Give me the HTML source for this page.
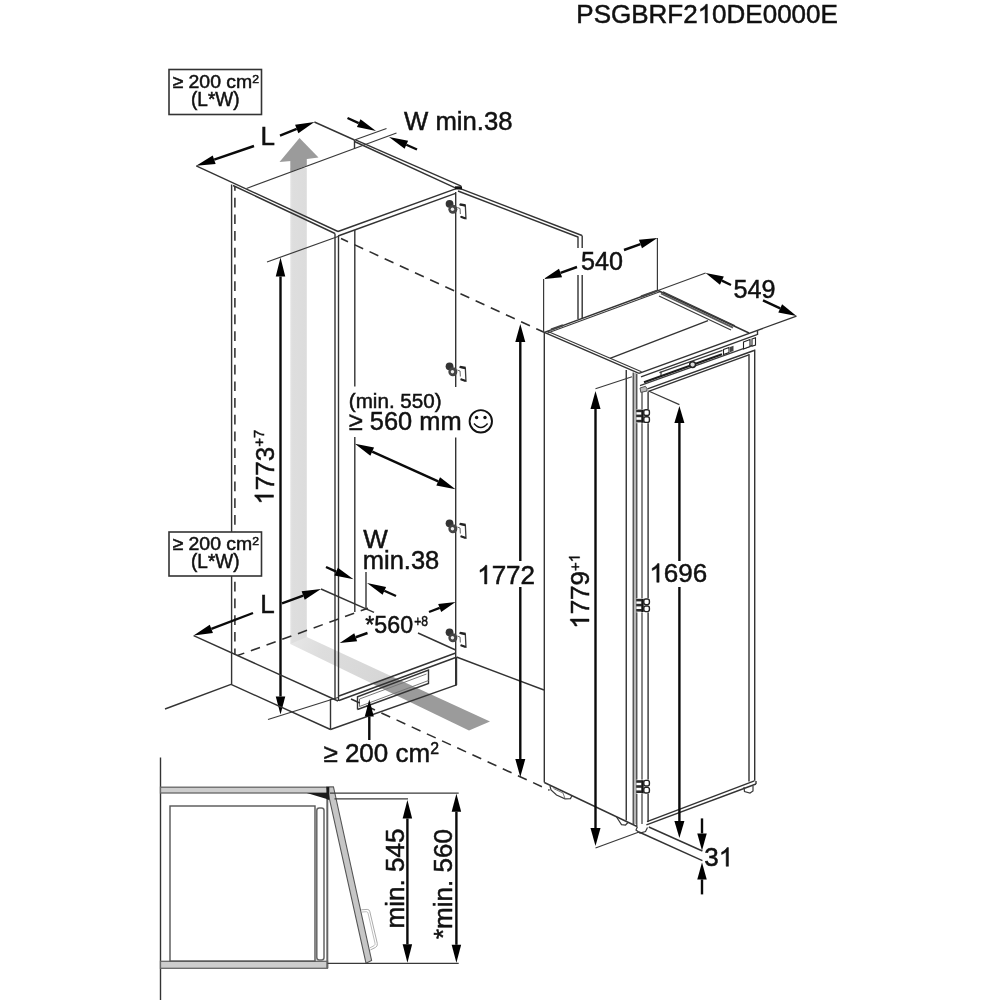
<!DOCTYPE html>
<html><head><meta charset="utf-8"><title>PSGBRF210DE0000E</title>
<style>
html,body{margin:0;padding:0;background:#fff;}
body{width:1000px;height:1000px;overflow:hidden;font-family:"Liberation Sans",sans-serif;}
svg{display:block;opacity:0.999;will-change:transform;filter:blur(0.45px);}
svg text{font-family:"Liberation Sans",sans-serif;fill:#111;stroke:#111;stroke-width:0.5;}
.g{stroke:#333;stroke-width:1.4;fill:none;stroke-linecap:butt;}
.t{stroke:#3a3a3a;stroke-width:1.2;fill:none;}
.d{stroke:#0a0a0a;stroke-width:2.4;fill:none;}
.k{stroke:#2e2e2e;stroke-width:1.55;fill:none;stroke-dasharray:9.7 7;}
.l{stroke:#777;stroke-width:1;fill:none;}
.h{stroke:#444;stroke-width:2.2;fill:none;}
</style></head><body>
<svg width="1000" height="1000" viewBox="0 0 1000 1000">
<defs>
<linearGradient id="sh" x1="0" y1="0" x2="1" y2="0"><stop offset="0" stop-color="#e4e4e4"/><stop offset="0.15" stop-color="#dedede"/><stop offset="1" stop-color="#dcdcdc"/></linearGradient>
<linearGradient id="fl" gradientUnits="userSpaceOnUse" x1="295" y1="640" x2="385" y2="680"><stop offset="0" stop-color="#e6e6e6"/><stop offset="0.3" stop-color="#dddddd"/><stop offset="1" stop-color="#d6d6d6"/></linearGradient>
</defs>
<rect width="1000" height="1000" fill="#fff"/>
<rect x="290.3" y="168" width="16.5" height="476" fill="url(#sh)"/>
<polygon points="306.80,637.00 393.00,677.00 373.00,684.00 290.30,644.00" fill="url(#fl)" />
<polygon points="392.00,676.50 490.00,721.50 469.00,730.50 372.20,683.70" fill="#9b9b9b" />
<polygon points="290.30,159.00 306.80,157.00 306.80,165.50 290.30,171.80" fill="#9b9b9b" />
<polygon points="299.50,138.00 318.50,157.50 307.00,159.00 291.00,161.00 279.50,162.00" fill="#9b9b9b" />
<g transform="translate(576.3 23)">
<path d="M763 0H583V1147Q518 1085 412.5 1023T223 930V1104Q374 1175 487 1276T647 1472H763Z" transform="translate(121.37 0) scale(0.01270 -0.01270)" fill="#111" stroke="#111" stroke-width="39.4"/>
<text x="0.00 17.34 34.68 54.91 72.25 91.03 106.91 135.82 150.28 169.05 186.39 200.85 215.31 229.76 244.22" y="0" font-size="26">PSGBRF20DE0000E</text>
</g>
<rect x="169" y="69.5" width="92.5" height="45" fill="#fff" stroke="#333" stroke-width="1.6"/>
<text x="172.5" y="88.2" font-size="18.4" textLength="86.5" lengthAdjust="spacingAndGlyphs" stroke-width="0.55">≥ 200 cm<tspan font-size="11.6" dy="-5.6">2</tspan></text>
<text x="191" y="106" font-size="19.5" textLength="48.5" lengthAdjust="spacingAndGlyphs" stroke-width="0.5">(L*W)</text>
<line class="g" x1="196.2" y1="165.8" x2="338" y2="231.5" />
<line class="g" x1="233" y1="185.5" x2="335" y2="233.5" />
<line class="g" x1="338" y1="231.5" x2="455.5" y2="188.8" />
<line class="g" x1="338" y1="236" x2="455.5" y2="193.3" />
<line class="g" x1="314.4" y1="122" x2="354.5" y2="140" />
<line class="g" x1="355.5" y1="139.8" x2="461.2" y2="186.2" />
<line class="g" x1="354.5" y1="141.5" x2="456.4" y2="188.3" />
<line class="g" x1="354.5" y1="140" x2="354.5" y2="149" />
<line class="t" x1="354.5" y1="140" x2="386.5" y2="128.5" />
<line class="t" x1="246.5" y1="188.5" x2="396.5" y2="133" />
<line class="g" x1="459" y1="188.2" x2="582" y2="235.5" />
<line class="g" x1="458" y1="191" x2="578" y2="237" />
<line class="g" x1="578" y1="236.5" x2="578" y2="248" />
<line class="g" x1="582.2" y1="235.5" x2="582.2" y2="248" />
<line class="g" x1="578" y1="275" x2="578" y2="319" />
<line class="g" x1="582.2" y1="275" x2="582.2" y2="318" />
<path d="M455 186.3 L462 186.3 L462 189.5 L455 189.5Z" fill="#111"/>
<polygon points="196.20,165.80 212.72,155.39 215.63,163.90" fill="#000" />
<line class="d" x1="254" y1="146" x2="214.17" y2="159.64" />
<polygon points="314.40,122.00 298.39,133.17 295.08,124.80" fill="#000" />
<line class="d" x1="280" y1="135.6" x2="296.73" y2="128.99" />
<text x="260.5" y="145" font-size="26" >L</text>
<polygon points="376.00,131.00 356.95,126.98 360.48,119.25" fill="#000" />
<line class="d" x1="347.5" y1="118" x2="358.71" y2="123.11" />
<polygon points="389.00,137.00 408.08,140.86 404.62,148.63" fill="#000" />
<line class="d" x1="417" y1="149.5" x2="406.35" y2="144.75" />
<text x="404" y="130" font-size="26" textLength="108.5" lengthAdjust="spacingAndGlyphs" >W min.38</text>
<line class="g" x1="231.6" y1="184.5" x2="231.6" y2="684.4" />
<line class="k" x1="234.9" y1="187" x2="234.9" y2="655" stroke-dasharray="11.5 4.5" stroke-dashoffset="6"/>
<line class="g" x1="335" y1="233.5" x2="335" y2="699" />
<line class="g" x1="338.5" y1="236" x2="338.5" y2="701" />
<line class="g" x1="354.8" y1="230" x2="354.8" y2="386.5" />
<line class="g" x1="354.8" y1="437" x2="354.8" y2="612" />
<line class="g" x1="366" y1="572" x2="366" y2="608.5" />
<line class="g" x1="455.7" y1="192" x2="455.7" y2="387" />
<line class="g" x1="455.7" y1="437.6" x2="455.7" y2="686" />
<line class="k" x1="341" y1="238.5" x2="544" y2="332.3" stroke-dashoffset="2"/>
<line class="t" x1="267" y1="262" x2="338" y2="236.5" />
<line class="t" x1="268" y1="719.5" x2="338" y2="697.5" />
<polygon points="280.50,257.50 285.25,276.50 275.75,276.50" fill="#000" />
<line class="d" x1="280.5" y1="500" x2="280.5" y2="276.5" />
<polygon points="280.50,714.50 275.75,696.50 285.25,696.50" fill="#000" />
<line class="d" x1="280.5" y1="500" x2="280.5" y2="696.5" />
<g transform="translate(273.5 504.6) rotate(-90)">
<path d="M763 0H583V1147Q518 1085 412.5 1023T223 930V1104Q374 1175 487 1276T647 1472H763Z" transform="translate(0.00 0) scale(0.01270 -0.01270)" fill="#111" stroke="#111" stroke-width="39.4"/>
<text x="14.46 28.91 43.37" y="0" font-size="26">773</text>
<text x="57.82 66.58" y="-9.3" font-size="15">+7</text>
</g>
<text x="348.8" y="408" font-size="20.5" textLength="92.8" lengthAdjust="spacingAndGlyphs" >(min. 550)</text>
<text x="348.8" y="430.4" font-size="26" textLength="112.8" lengthAdjust="spacingAndGlyphs" >≥ 560 mm</text>
<circle cx="480.8" cy="421.3" r="11.2" fill="#fff" stroke="#111" stroke-width="1.9"/>
<circle cx="476.6" cy="417.5" r="1.7" fill="#111"/><circle cx="485" cy="417.5" r="1.7" fill="#111"/>
<path d="M474 423.5 Q480.8 431.5 487.6 423.5" stroke="#111" stroke-width="1.5" fill="none"/>
<polygon points="354.90,443.70 374.06,447.45 370.35,455.64" fill="#000" />
<polygon points="455.50,489.30 436.34,485.55 440.05,477.36" fill="#000" />
<line class="d" x1="438.19" y1="481.46" x2="372.21" y2="451.54" />
<rect x="169" y="532" width="92.5" height="44" fill="#fff" stroke="#333" stroke-width="1.6"/>
<text x="172.5" y="550.2" font-size="18.4" textLength="86.5" lengthAdjust="spacingAndGlyphs" stroke-width="0.55">≥ 200 cm<tspan font-size="11.6" dy="-5.6">2</tspan></text>
<text x="191" y="568" font-size="19.5" textLength="48.5" lengthAdjust="spacingAndGlyphs" stroke-width="0.5">(L*W)</text>
<polygon points="193.60,635.60 209.76,624.64 212.96,633.05" fill="#000" />
<line class="d" x1="253" y1="613" x2="211.36" y2="628.84" />
<polygon points="321.00,589.00 304.73,599.80 301.62,591.36" fill="#000" />
<line class="d" x1="282" y1="603.4" x2="303.18" y2="595.58" />
<text x="260.3" y="613" font-size="26" >L</text>
<line class="g" x1="193.6" y1="635.6" x2="338" y2="701" />
<line class="k" x1="237.5" y1="655.6" x2="368" y2="608.2" stroke-dasharray="14 5" stroke-dashoffset="2.5"/>
<line class="g" x1="321" y1="589" x2="374" y2="612.3" />
<text x="363.2" y="548" font-size="26" >W</text>
<text x="362.8" y="569.3" font-size="26" textLength="76.5" lengthAdjust="spacingAndGlyphs" >min.38</text>
<polygon points="353.50,579.30 334.42,575.42 337.89,567.66" fill="#000" />
<line class="d" x1="326" y1="567" x2="336.16" y2="571.54" />
<polygon points="367.00,583.00 386.08,586.89 382.60,594.65" fill="#000" />
<line class="d" x1="396" y1="596" x2="384.34" y2="590.77" />
<text x="365.3" y="633.2" font-size="23.5" textLength="47.8" lengthAdjust="spacingAndGlyphs" >*560</text>
<text x="414.3" y="626.4" font-size="14.5" textLength="13.8" lengthAdjust="spacingAndGlyphs" stroke-width="0.6">+8</text>
<polygon points="339.70,643.00 354.26,633.25 357.14,641.24" fill="#000" />
<line class="d" x1="367.5" y1="633" x2="355.7" y2="637.25" />
<polygon points="455.60,602.00 441.18,611.96 438.19,604.00" fill="#000" />
<line class="d" x1="429" y1="612" x2="439.69" y2="607.98" />
<line class="g" x1="418" y1="633" x2="455.6" y2="650" />
<line class="g" x1="339" y1="696" x2="455.7" y2="653" />
<line class="g" x1="339" y1="700.5" x2="455.7" y2="657.5" />
<line class="g" x1="231" y1="684.4" x2="330.5" y2="729.5" />
<line class="g" x1="330.5" y1="699" x2="330.5" y2="729.5" />
<line class="g" x1="330.5" y1="729.5" x2="456.5" y2="684.8" />
<line class="g" x1="456.5" y1="657" x2="456.5" y2="685" />
<line class="g" x1="165" y1="709" x2="231" y2="684.4" />
<line class="g" x1="456.5" y1="657" x2="544" y2="690" />
<polyline class="g" points="357.5,709.5 357.5,696.8 428.5,670 428.5,683.5 357.5,709.5" />
<polyline class="l" points="359.5,706.5 359.5,699 426.5,674" />
<line class="l" x1="359.5" y1="706.5" x2="428.5" y2="680.5" />
<line class="k" x1="351" y1="699" x2="549.5" y2="790.2" />
<polygon points="369.30,699.50 373.80,716.50 364.80,716.50" fill="#000" />
<line class="d" x1="369.3" y1="740" x2="369.3" y2="716.5" />
<text x="323.4" y="762" font-size="26" >≥ 200 cm<tspan font-size="15.8" dy="-8.3">2</tspan></text>
<polygon points="520.30,324.00 525.30,342.00 515.30,342.00" fill="#000" />
<line class="d" x1="520.3" y1="561" x2="520.3" y2="342.0" />
<polygon points="520.30,777.00 515.30,759.00 525.30,759.00" fill="#000" />
<line class="d" x1="520.3" y1="587" x2="520.3" y2="759.0" />
<g transform="translate(477.2 584)">
<path d="M763 0H583V1147Q518 1085 412.5 1023T223 930V1104Q374 1175 487 1276T647 1472H763Z" transform="translate(0.00 0) scale(0.01270 -0.01270)" fill="#111" stroke="#111" stroke-width="39.4"/>
<text x="14.46 28.91 43.37" y="0" font-size="26">772</text>
</g>
<line class="g" x1="544.3" y1="332.3" x2="639" y2="373.3" />
<line class="t" x1="547.5" y1="331.2" x2="641.5" y2="371.8" />
<line class="g" x1="544.3" y1="332.3" x2="658" y2="290.5" />
<line class="t" x1="547" y1="333.2" x2="660.5" y2="291.5" />
<line class="g" x1="658" y1="290.5" x2="749" y2="333" />
<line class="g" x1="639" y1="373.3" x2="796.5" y2="316.1" />
<line class="g" x1="641" y1="376.8" x2="757" y2="334.6" />
<line class="g" x1="757.5" y1="330.5" x2="757.5" y2="335" />
<line class="g" x1="610" y1="358.3" x2="708" y2="320.7" />
<line class="h" x1="551" y1="329.6" x2="563" y2="325.2" />
<line class="h" x1="641" y1="296.6" x2="657" y2="290.8" />
<line x1="661" y1="293.5" x2="733" y2="327.6" stroke="#5a5a5a" stroke-width="1.9"/>
<line class="t" x1="663" y1="291.8" x2="735" y2="325.8" />
<line class="t" x1="659" y1="296" x2="731" y2="330" />
<line class="t" x1="659.4" y1="372.6" x2="722.5" y2="350.4" />
<line class="t" x1="661" y1="371.8" x2="661" y2="376" />
<line x1="644" y1="382.3" x2="722" y2="354.3" stroke="#1c1c1c" stroke-width="2.1"/>
<line class="t" x1="640" y1="385.6" x2="754.5" y2="344.6" />
<line class="g" x1="647.5" y1="388.9" x2="754" y2="350.5" />
<line class="g" x1="648.5" y1="391.3" x2="748.8" y2="354.9" />
<circle cx="692.6" cy="364.6" r="2.9" fill="#ddd" stroke="#222" stroke-width="1.5"/>
<path d="M723.5 349.5 L729 347.5 L729 352.5 L723.5 354.5Z" fill="#fff" stroke="#222" stroke-width="1.1"/>
<path d="M730 347 L733.5 345.8 L733.5 351 L730 352.2Z" fill="#444"/>
<path d="M743.5 342 L750 339.6 L750 346.5 L743.5 349Z" fill="#fff" stroke="#222" stroke-width="1.1"/>
<path d="M752 339 L755.5 337.8 L755.5 345 L752 346.3Z" fill="#fff" stroke="#222" stroke-width="1.1"/>
<line class="g" x1="544.3" y1="332.3" x2="544.3" y2="782.5" />
<line class="g" x1="626.25" y1="370" x2="626.25" y2="820.5" />
<rect x="633.2" y="373" width="3.6" height="451" fill="#b5b5b5"/>
<line class="t" x1="633.2" y1="372.5" x2="633.2" y2="824" />
<line class="t" x1="636.8" y1="374" x2="636.8" y2="826" />
<line class="t" x1="642" y1="392" x2="642" y2="824" />
<line class="g" x1="648.1" y1="391.5" x2="648.1" y2="822" />
<line class="g" x1="749" y1="354" x2="749" y2="781.5" />
<line class="g" x1="754.7" y1="349.5" x2="754.7" y2="780.8" />
<line class="g" x1="544.3" y1="782.5" x2="637" y2="826.5" />
<line class="g" x1="647" y1="821.6" x2="754.4" y2="780.8" />
<line class="g" x1="646.4" y1="824.8" x2="756" y2="784" />
<line class="g" x1="756" y1="781" x2="756" y2="784" />
<path d="M550 786 L551 790 L556.5 795 L565 798.8 L570.5 798.6 L572 795.5" class="t"/>
<path d="M553.5 788.5 L563 793 L565 798.5" class="l"/>
<path d="M616.5 817 L621.5 824.6 L625.5 825 L628 822.5" class="t"/>
<path d="M744 787 L744.5 791.5 L750 793 L753 791 L753 786" class="t"/>
<path d="M637.5 826.5 L636 830 L640 833 L645.5 831.5 L647.5 827.5" class="t"/>
<rect x="636.4" y="409" width="13" height="14.2" fill="#fff"/>
<rect x="636.2" y="409.6" width="5.6" height="2.6" fill="#2a2a2a"/>
<rect x="636.2" y="414.6" width="5.6" height="2.6" fill="#2a2a2a"/>
<rect x="636.2" y="419.8" width="5.6" height="2.6" fill="#2a2a2a"/>
<rect x="641.3" y="409.6" width="2.4" height="13.2" fill="#151515"/>
<rect x="643.8" y="409.8" width="5.6" height="5.6" rx="2" fill="#fff" stroke="#222" stroke-width="1.4"/>
<rect x="643.8" y="416.8" width="5.6" height="5.6" rx="2" fill="#fff" stroke="#222" stroke-width="1.4"/>
<rect x="636.4" y="598.2" width="13" height="14.2" fill="#fff"/>
<rect x="636.2" y="598.8000000000001" width="5.6" height="2.6" fill="#2a2a2a"/>
<rect x="636.2" y="603.8000000000001" width="5.6" height="2.6" fill="#2a2a2a"/>
<rect x="636.2" y="609.0" width="5.6" height="2.6" fill="#2a2a2a"/>
<rect x="641.3" y="598.8000000000001" width="2.4" height="13.2" fill="#151515"/>
<rect x="643.8" y="599.0" width="5.6" height="5.6" rx="2" fill="#fff" stroke="#222" stroke-width="1.4"/>
<rect x="643.8" y="606.0" width="5.6" height="5.6" rx="2" fill="#fff" stroke="#222" stroke-width="1.4"/>
<rect x="636.4" y="779.6" width="13" height="14.2" fill="#fff"/>
<rect x="636.2" y="780.2" width="5.6" height="2.6" fill="#2a2a2a"/>
<rect x="636.2" y="785.2" width="5.6" height="2.6" fill="#2a2a2a"/>
<rect x="636.2" y="790.4" width="5.6" height="2.6" fill="#2a2a2a"/>
<rect x="641.3" y="780.2" width="2.4" height="13.2" fill="#151515"/>
<rect x="643.8" y="780.4" width="5.6" height="5.6" rx="2" fill="#fff" stroke="#222" stroke-width="1.4"/>
<rect x="643.8" y="787.4" width="5.6" height="5.6" rx="2" fill="#fff" stroke="#222" stroke-width="1.4"/>
<path d="M640 388 L645.5 386.3 L647 388.6 L647 391 L640.8 392.4Z" fill="#bbb" stroke="#444" stroke-width="0.9"/>
<line class="t" x1="543.6" y1="279" x2="543.6" y2="332" />
<line class="t" x1="657.4" y1="238" x2="657.4" y2="290.5" />
<polygon points="543.60,279.00 559.02,268.68 562.06,277.15" fill="#000" />
<line class="d" x1="577" y1="267" x2="560.54" y2="272.91" />
<polygon points="657.40,238.00 641.98,248.32 638.94,239.85" fill="#000" />
<line class="d" x1="624" y1="250" x2="640.46" y2="244.09" />
<text x="581" y="269.6" font-size="26" textLength="42" lengthAdjust="spacingAndGlyphs" >540</text>
<line class="t" x1="658" y1="290.5" x2="705.6" y2="273" />
<polygon points="705.60,273.00 723.80,276.62 719.95,284.76" fill="#000" />
<line class="d" x1="731" y1="285" x2="721.88" y2="280.69" />
<polygon points="796.50,316.00 778.29,312.44 782.11,304.29" fill="#000" />
<line class="d" x1="763" y1="300.3" x2="780.2" y2="308.36" />
<text x="733.5" y="298" font-size="26" textLength="42" lengthAdjust="spacingAndGlyphs" >549</text>
<line class="t" x1="595.5" y1="388.8" x2="632" y2="376.8" />
<line class="t" x1="595.5" y1="848" x2="639" y2="832" />
<polygon points="595.50,391.00 600.50,409.00 590.50,409.00" fill="#000" />
<line class="d" x1="595.5" y1="600" x2="595.5" y2="409.0" />
<polygon points="595.50,846.00 590.50,828.00 600.50,828.00" fill="#000" />
<line class="d" x1="595.5" y1="600" x2="595.5" y2="828.0" />
<g transform="translate(589 628.8) rotate(-90)">
<path d="M763 0H583V1147Q518 1085 412.5 1023T223 930V1104Q374 1175 487 1276T647 1472H763Z" transform="translate(0.00 0) scale(0.01270 -0.01270)" fill="#111" stroke="#111" stroke-width="39.4"/>
<text x="14.46 28.91 43.37" y="0" font-size="26">779</text>
<path d="M763 0H583V1147Q518 1085 412.5 1023T223 930V1104Q374 1175 487 1276T647 1472H763Z" transform="translate(66.47 -9.4) scale(0.00723 -0.00723)" fill="#111" stroke="#111" stroke-width="69.2"/>
<text x="57.82" y="-9.4" font-size="14.8">+</text>
</g>
<line class="t" x1="648.5" y1="391" x2="679.4" y2="404.6" />
<polygon points="679.40,406.00 684.40,423.00 674.40,423.00" fill="#000" />
<line class="d" x1="679.4" y1="561" x2="679.4" y2="423.0" />
<polygon points="679.40,838.00 674.40,821.00 684.40,821.00" fill="#000" />
<line class="d" x1="679.4" y1="587" x2="679.4" y2="821.0" />
<g transform="translate(649.4 582.3)">
<path d="M763 0H583V1147Q518 1085 412.5 1023T223 930V1104Q374 1175 487 1276T647 1472H763Z" transform="translate(0.00 0) scale(0.01270 -0.01270)" fill="#111" stroke="#111" stroke-width="39.4"/>
<text x="14.46 28.91 43.37" y="0" font-size="26">696</text>
</g>
<line class="g" x1="648.8" y1="827" x2="702.4" y2="851" />
<line class="g" x1="639" y1="832" x2="702.4" y2="860.6" />
<polygon points="702.00,850.40 697.25,833.40 706.75,833.40" fill="#000" />
<line class="d" x1="702" y1="818.4" x2="702.0" y2="833.4" />
<polygon points="702.00,862.40 706.75,879.40 697.25,879.40" fill="#000" />
<line class="d" x1="702" y1="894.4" x2="702.0" y2="879.4" />
<g transform="translate(704.3 866.3)">
<path d="M763 0H583V1147Q518 1085 412.5 1023T223 930V1104Q374 1175 487 1276T647 1472H763Z" transform="translate(14.46 0) scale(0.01270 -0.01270)" fill="#111" stroke="#111" stroke-width="39.4"/>
<text x="0.00" y="0" font-size="26">3</text>
</g>
<line class="g" x1="160.5" y1="757.5" x2="160.5" y2="1000" />
<rect x="160.5" y="787.2" width="172.6" height="5.8" fill="#cdcdcd" stroke="#666" stroke-width="1.3"/>
<rect x="160.5" y="961.3" width="167" height="7" fill="#cdcdcd" stroke="#666" stroke-width="1.3"/>
<rect x="170" y="806" width="145" height="155" fill="#fff" stroke="#555" stroke-width="1.4"/>
<rect x="316.8" y="808" width="7.2" height="152" rx="2.5" fill="#fff" stroke="#666" stroke-width="1.5"/>
<line x1="327.3" y1="800" x2="327.3" y2="968" stroke="#666" stroke-width="2"/>
<path d="M326.8 787 L333.5 787 L371.6 960.5 L366 963.2Z" fill="#c6c6c6" stroke="#555" stroke-width="1.1"/>
<path d="M361.3 909.8 L367.2 909.4 Q369.3 909.3 369.8 911.5 L377.3 943.5 Q377.8 946.3 375.3 947.5 L370.3 950" fill="none" stroke="#aaa" stroke-width="1"/>
<path d="M362 912 L366.3 911.7 Q367.6 911.6 368 913 L375 943.2 Q375.4 945 374 945.7 L370 947.8" fill="none" stroke="#b5b5b5" stroke-width="0.9"/>
<path d="M306.8 793 L328.5 793 L328.5 799.5Z" fill="#1a1a1a"/>
<rect x="326.4" y="787" width="2.9" height="12.8" fill="#1a1a1a"/>
<line class="t" x1="330" y1="793.2" x2="458.7" y2="793.2" />
<line class="t" x1="334.5" y1="798.8" x2="408" y2="798.8" />
<line class="t" x1="327.5" y1="963.4" x2="458.7" y2="963.4" />
<polygon points="407.40,800.00 412.15,818.50 402.65,818.50" fill="#000" />
<line class="d" x1="407.4" y1="880" x2="407.4" y2="818.5" />
<polygon points="407.40,962.80 402.65,944.30 412.15,944.30" fill="#000" />
<line class="d" x1="407.4" y1="880" x2="407.4" y2="944.3" />
<polygon points="456.40,793.70 461.15,811.70 451.65,811.70" fill="#000" />
<line class="d" x1="456.4" y1="880" x2="456.4" y2="811.7" />
<polygon points="456.40,962.80 451.65,944.80 461.15,944.80" fill="#000" />
<line class="d" x1="456.4" y1="880" x2="456.4" y2="944.8" />
<text x="403.6" y="928.5" font-size="26" textLength="100" lengthAdjust="spacingAndGlyphs" transform="rotate(-90 403.6 928.5)" >min. 545</text>
<text x="451.7" y="939" font-size="26" textLength="110" lengthAdjust="spacingAndGlyphs" transform="rotate(-90 451.7 939)" >*min. 560</text>
<circle cx="449.55" cy="203.8" r="3.9" fill="#333"/>
<circle cx="452.85" cy="209.3" r="4.5" fill="#444"/>
<circle cx="452.45" cy="209.3" r="1.7" fill="#eee"/>
<path d="M459.35 204.5 L465.35 205.7 L465.95 218.5 L460.35 216.5" fill="none" stroke="#3a3a3a" stroke-width="1.3"/>
<path d="M459.95 204.3 L465.55 205.5" stroke="#222" stroke-width="2.4" fill="none"/>
<path d="M460.75 216.8 L465.75 218.5" stroke="#222" stroke-width="2.2" fill="none"/>
<path d="M457.25 207.5 L460.05 208.5 L460.35 214.0" fill="none" stroke="#666" stroke-width="1"/>
<circle cx="449.55" cy="366.3" r="3.9" fill="#333"/>
<circle cx="452.85" cy="371.8" r="4.5" fill="#444"/>
<circle cx="452.45" cy="371.8" r="1.7" fill="#eee"/>
<path d="M459.35 367 L465.35 368.2 L465.95 381 L460.35 379" fill="none" stroke="#3a3a3a" stroke-width="1.3"/>
<path d="M459.95 366.8 L465.55 368" stroke="#222" stroke-width="2.4" fill="none"/>
<path d="M460.75 379.3 L465.75 381" stroke="#222" stroke-width="2.2" fill="none"/>
<path d="M457.25 370 L460.05 371 L460.35 376.5" fill="none" stroke="#666" stroke-width="1"/>
<circle cx="449.55" cy="523.3" r="3.9" fill="#333"/>
<circle cx="452.85" cy="528.8" r="4.5" fill="#444"/>
<circle cx="452.45" cy="528.8" r="1.7" fill="#eee"/>
<path d="M459.35 524 L465.35 525.2 L465.95 538 L460.35 536" fill="none" stroke="#3a3a3a" stroke-width="1.3"/>
<path d="M459.95 523.8 L465.55 525" stroke="#222" stroke-width="2.4" fill="none"/>
<path d="M460.75 536.3 L465.75 538" stroke="#222" stroke-width="2.2" fill="none"/>
<path d="M457.25 527 L460.05 528 L460.35 533.5" fill="none" stroke="#666" stroke-width="1"/>
<circle cx="449.55" cy="632.3" r="3.9" fill="#333"/>
<circle cx="452.85" cy="637.8" r="4.5" fill="#444"/>
<circle cx="452.45" cy="637.8" r="1.7" fill="#eee"/>
<path d="M459.35 633 L465.35 634.2 L465.95 647 L460.35 645" fill="none" stroke="#3a3a3a" stroke-width="1.3"/>
<path d="M459.95 632.8 L465.55 634" stroke="#222" stroke-width="2.4" fill="none"/>
<path d="M460.75 645.3 L465.75 647" stroke="#222" stroke-width="2.2" fill="none"/>
<path d="M457.25 636 L460.05 637 L460.35 642.5" fill="none" stroke="#666" stroke-width="1"/>
</svg>
</body></html>
